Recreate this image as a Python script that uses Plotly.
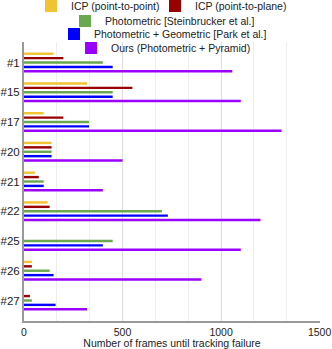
import plotly.graph_objects as go

sequences = ["#1", "#15", "#17", "#20", "#21", "#22", "#25", "#26", "#27"]

icp_point = [150, 320, 100, 140, 55, 120, 0, 40, 0]
icp_plane = [200, 550, 200, 140, 75, 130, 0, 40, 30]
photometric = [400, 450, 330, 140, 100, 700, 450, 130, 40]
photo_geom = [450, 450, 330, 140, 100, 730, 400, 150, 160]
ours = [1057, 1100, 1307, 500, 400, 1200, 1100, 900, 320]

series = [
    ("ICP (point-to-point)", icp_point, "#f1c232", "legend"),
    ("ICP (point-to-plane)", icp_plane, "#990000", "legend5"),
    ("Photometric [Steinbrucker et al.]", photometric, "#6aa84f", "legend2"),
    ("Photometric + Geometric [Park et al.]", photo_geom, "#0000ff", "legend3"),
    ("Ours (Photometric + Pyramid)", ours, "#9900ff", "legend4"),
]

fig = go.Figure()
for name, vals, col, leg in series:
    fig.add_trace(go.Bar(
        x=vals, y=sequences, name=name, orientation="h",
        marker_color=col, marker_line_width=0, legend=leg, showlegend=True,
    ))

font = dict(family="Liberation Sans, Arial, sans-serif", size=10.5, color="#222")
leg_common = dict(orientation="h", xref="container", yref="container",
                  xanchor="left", yanchor="middle", itemwidth=30,
                  bgcolor="rgba(0,0,0,0)", font=font, borderwidth=0)

# one legend per entry so each row can be placed like the reference
fig.update_layout(
    width=332, height=349,
    margin=dict(l=24, r=12, t=42, b=28, autoexpand=False),
    plot_bgcolor="white", paper_bgcolor="white",
    font=font, showlegend=True,
    barmode="group", bargap=0.26, bargroupgap=0.45,
    legend=dict(x=31 / 332, y=1 - 6 / 349, **leg_common),
    legend5=dict(x=155 / 332, y=1 - 6 / 349, **leg_common),
    legend2=dict(x=65 / 332, y=1 - 21 / 349, **leg_common),
    legend3=dict(x=54 / 332, y=1 - 34 / 349, **leg_common),
    legend4=dict(x=71 / 332, y=1 - 48 / 349, **leg_common),
)
fig.update_xaxes(
    range=[0, 1502], tickmode="array", tickvals=[0, 500, 1000, 1500],
    showgrid=True, gridcolor="#dddddd", gridwidth=1,
    minor=dict(tickmode="array", tickvals=[500 / 3 * i for i in range(10)],
               showgrid=True, gridcolor="#eeeeee"),
    showline=True, linecolor="#999999", linewidth=2, zeroline=False,
    ticks="", automargin=False,
    title=dict(text="Number of frames until tracking failure",
               font=dict(size=10.5), standoff=4),
)
fig.update_yaxes(
    type="category", range=[8.69, -0.69], showline=True, linecolor="#999999",
    linewidth=2, showgrid=False, ticks="", tickfont=dict(size=11.5), automargin=False,
)

# the page body has a default 8px margin; drop it so the chart fills the window
fig.write_html("out.html", config={"displayModeBar": False},
               post_script="document.body.style.margin='0';")
